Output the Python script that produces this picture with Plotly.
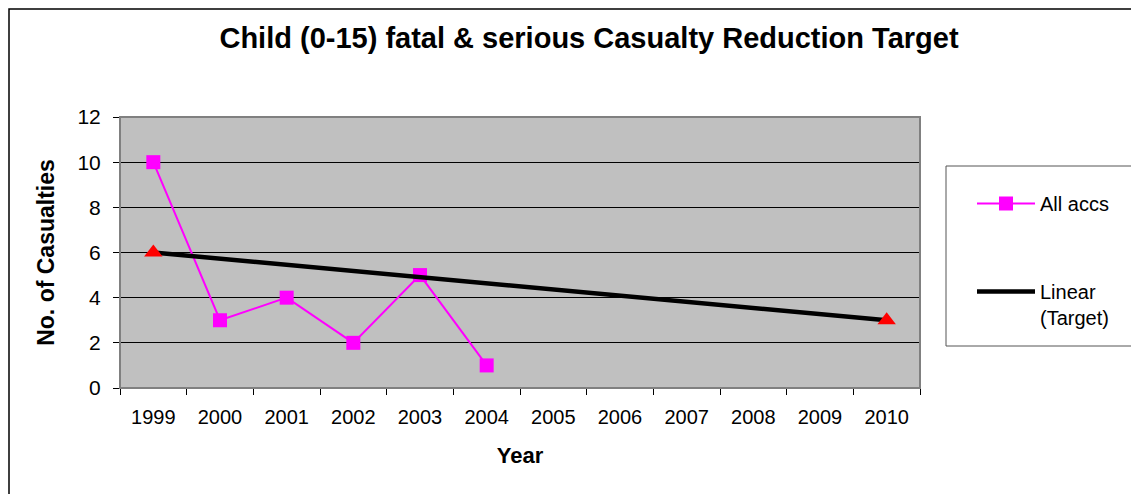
import plotly.graph_objects as go

years = [1999, 2000, 2001, 2002, 2003, 2004, 2005, 2006, 2007, 2008, 2009, 2010]
accs_years = [1999, 2000, 2001, 2002, 2003, 2004]
accs_vals = [10, 3, 4, 2, 5, 1]
target_years = [1999, 2010]
target_vals = [6, 3]
y_ticks = [0, 2, 4, 6, 8, 10, 12]

W, H = 1139, 494
OFF = 8  # page body offset
L, R, T, B = 120, 920, 117, 388

def px_x(p):
    return (p - L) / (R - L)

def px_y(p):
    return (B - p) / (B - T)

fig = go.Figure()

fig.add_trace(go.Scatter(
    x=accs_years, y=accs_vals, mode="lines+markers", name="All accs",
    line=dict(color="#FF00FF", width=2),
    marker=dict(symbol="square", size=14, color="#FF00FF"),
    legendgroup="a",
))
fig.add_trace(go.Scatter(
    x=target_years, y=target_vals, mode="lines", name="Linear<br>(Target)",
    line=dict(color="black", width=4.5),
    legendgroup="b",
))
fig.add_trace(go.Scatter(
    x=target_years, y=target_vals, mode="markers", name="Target",
    marker=dict(symbol="triangle-up", size=16, color="#FF0000"),
    showlegend=False,
))

shapes = [
    dict(type="rect", xref="paper", yref="paper", x0=0, x1=1, y0=0, y1=1,
         line=dict(color="#808080", width=2), layer="above"),
    dict(type="rect", xref="paper", yref="paper", x0=px_x(946), x1=px_x(1170),
         y0=px_y(346), y1=px_y(166), line=dict(color="#555555", width=1)),
    dict(type="rect", xref="paper", yref="paper", x0=px_x(OFF + 1), x1=px_x(1170),
         y0=px_y(520), y1=px_y(OFF + 1), line=dict(color="black", width=1.5)),
]

fig.update_layout(
    width=W, height=H,
    margin=dict(l=L - OFF, r=W - (R - OFF), t=T - OFF, b=H - (B - OFF), autoexpand=False),
    paper_bgcolor="white",
    plot_bgcolor="#C0C0C0",
    font=dict(family="Liberation Sans, Arial, sans-serif", size=20, color="black"),
    title=dict(text="<b>Child (0-15) fatal & serious Casualty Reduction Target</b>",
               x=px_x(589), xanchor="center", y=1 - (38 - OFF) / H, yanchor="middle",
               xref="paper", yref="container",
               font=dict(size=29, color="black")),
    shapes=shapes,
    showlegend=True,
    legend=dict(x=px_x(972), xanchor="left", y=px_y(184), yanchor="top",
                bgcolor="rgba(0,0,0,0)", borderwidth=0,
                font=dict(size=20), itemwidth=58, valign="top",
                tracegroupgap=59, traceorder="grouped"),
    xaxis=dict(
        range=[1998.5, 2010.5], tickvals=years, ticktext=[str(y) for y in years],
        ticks="", showgrid=False, zeroline=False,
        showline=True, linecolor="black", linewidth=1,
        minor=dict(tick0=1998.5, dtick=1, ticks="outside", ticklen=6,
                   tickcolor="black", showgrid=False),
        ticklabelstandoff=11,
        title=dict(text="<b>Year</b>", font=dict(size=22), standoff=20),
        tickfont=dict(size=20),
    ),
    yaxis=dict(
        range=[0, 12], tickvals=y_ticks, ticks="outside", ticklen=6,
        tickcolor="black", showgrid=True, gridcolor="black", gridwidth=1,
        zeroline=False, showline=True, linecolor="black", linewidth=1,
        ticklabelstandoff=8,
        title=dict(text="<b>No. of Casualties</b>", font=dict(size=23), standoff=16),
        tickfont=dict(size=21),
    ),
)

fig.write_html("out.html")
